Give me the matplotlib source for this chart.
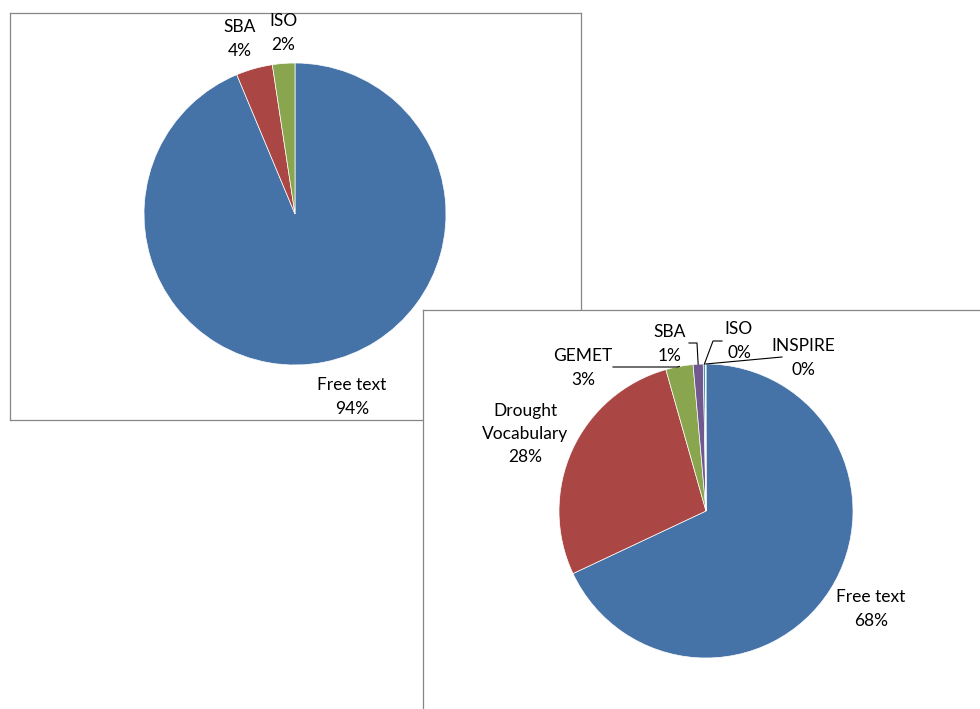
import numpy as np
import matplotlib
matplotlib.use('Agg')
import matplotlib.pyplot as plt

# chart 1
labels_1 = ['Free text', 'SBA', 'ISO']
values_1 = [93.7, 3.9, 2.4]
colors_1 = ['#4572A7', '#AA4643', '#89A54E']

# chart 2
labels_2 = ['Free text', 'Drought\nVocabulary', 'GEMET', 'SBA', 'ISO', 'INSPIRE']
values_2 = [68.0, 27.6, 3.0, 1.1, 0.25, 0.05]
colors_2 = ['#4572A7', '#AA4643', '#89A54E', '#71588F', '#4198AF', '#DB843D']

plt.rcParams['font.family'] = ['Lato', 'DejaVu Sans']

W, H = 980, 709
fig = plt.figure(figsize=(W / 100, H / 100), dpi=100)

def box_axes(x0, y0, x1, y1, z):
    # pixel box (top-left origin) -> axes with pixel data units, y up
    ax = fig.add_axes([x0 / W, (H - y1) / H, (x1 - x0) / W, (y1 - y0) / H], zorder=z)
    ax.set_xticks([])
    ax.set_yticks([])
    ax.set_facecolor('white')
    for s in ax.spines.values():
        s.set_color('#868686')
        s.set_linewidth(0.9)
    return ax

def draw_pie(ax, values, colors, center, radius):
    wedges, _ = ax.pie(values, colors=colors, startangle=90, counterclock=False,
                       center=center, radius=radius, frame=True,
                       wedgeprops=dict(edgecolor='white', linewidth=0.5))
    ax.set_aspect('auto')
    return wedges

def pct_text(name, v, values):
    return f"{name}\n{v / sum(values) * 100:.0f}%"

def edge_point(w, center, radius):
    a = np.deg2rad((w.theta1 + w.theta2) / 2)
    return center[0] + radius * np.cos(a), center[1] + radius * np.sin(a)

FS = 12.5
LS = 1.55

# ---- chart 1 ----
bx1 = (10, 13, 581, 420)
ax1 = box_axes(*bx1, z=1)
c1 = (295 - bx1[0], bx1[3] - 214)
w1 = draw_pie(ax1, values_1, colors_1, c1, 151)
ax1.set_xlim(0, bx1[2] - bx1[0]); ax1.set_ylim(0, bx1[3] - bx1[1])

lab_pos_1 = [(352, 397), (240, 39), (283, 33)]
for name, v, (px, py) in zip(labels_1, values_1, lab_pos_1):
    ax1.text(px - bx1[0], bx1[3] - py, pct_text(name, v, values_1),
             ha='center', va='center', fontsize=FS, linespacing=LS)

# ---- chart 2 ----
bx2 = (423, 310, 1000, 730)
ax2 = box_axes(*bx2, z=2)
c2 = (706 - bx2[0], bx2[3] - 511)
r2 = 147
w2 = draw_pie(ax2, values_2, colors_2, c2, r2)
ax2.set_xlim(0, bx2[2] - bx2[0]); ax2.set_ylim(0, bx2[3] - bx2[1])

lab_pos_2 = [(871, 609), (525, 434), (583, 368), (670, 344), (739, 341), (803, 358)]
for name, v, (px, py) in zip(labels_2, values_2, lab_pos_2):
    ax2.text(px - bx2[0], bx2[3] - py, pct_text(name, v, values_2),
             ha='center', va='center', fontsize=FS, linespacing=LS)

# leader lines for the small slices (start points in pixel coords, with elbow)
leaders = {2: [(613, 367), (677, 367)],
           3: [(689, 343), (697, 343)],
           4: [(722, 341), (713, 341)],
           5: [(782, 357)]}
for i, pts in leaders.items():
    ex, ey = edge_point(w2[i], c2, r2)
    xs = [p[0] - bx2[0] for p in pts] + [ex]
    ys = [bx2[3] - p[1] for p in pts] + [ey]
    ax2.plot(xs, ys, color='black', lw=0.8, zorder=5)

fig.savefig('out.png', dpi=100, facecolor='white')
